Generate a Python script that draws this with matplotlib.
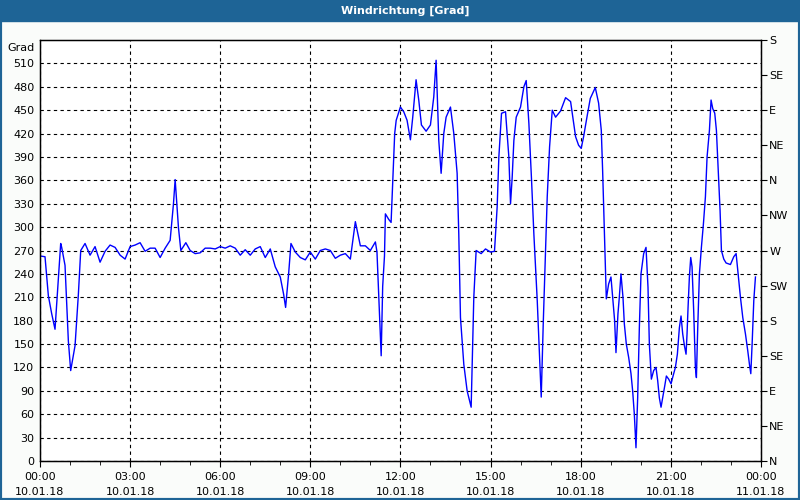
import matplotlib
matplotlib.use("Agg")
import matplotlib.pyplot as plt
from matplotlib.patches import Rectangle
from matplotlib.ticker import MultipleLocator

# Stunden ab 10.01.18 00:00 und Windrichtung in Grad
stunden = [
    0.000, 0.167, 0.278, 0.389, 0.500, 0.556, 0.689, 0.722, 0.833, 0.944,
    1.022, 1.167, 1.278, 1.356, 1.500, 1.667, 1.833, 2.000, 2.167, 2.333,
    2.500, 2.667, 2.833, 3.000, 3.167, 3.333, 3.500, 3.667, 3.833, 4.000,
    4.167, 4.333, 4.444, 4.500, 4.611, 4.689, 4.856, 5.000, 5.167, 5.333,
    5.500, 5.667, 5.833, 6.000, 6.167, 6.333, 6.500, 6.667, 6.833, 7.000,
    7.167, 7.333, 7.500, 7.667, 7.833, 8.000, 8.111, 8.178, 8.278, 8.356,
    8.500, 8.667, 8.833, 9.000, 9.167, 9.333, 9.500, 9.667, 9.833, 10.000,
    10.167, 10.333, 10.500, 10.667, 10.833, 11.000, 11.167, 11.220, 11.300, 11.360,
    11.410, 11.470, 11.500, 11.610, 11.690, 11.760, 11.810, 11.860, 12.000, 12.111,
    12.222, 12.333, 12.411, 12.522, 12.611, 12.700, 12.856, 13.000, 13.111, 13.189,
    13.278, 13.356, 13.444, 13.522, 13.667, 13.778, 13.889, 13.944, 14.000, 14.111,
    14.222, 14.356, 14.444, 14.522, 14.689, 14.833, 15.000, 15.133, 15.222, 15.278,
    15.367, 15.500, 15.611, 15.667, 15.722, 15.778, 15.856, 16.000, 16.111, 16.189,
    16.278, 16.367, 16.444, 16.556, 16.633, 16.689, 16.756, 16.833, 16.889, 16.967,
    17.056, 17.167, 17.333, 17.500, 17.667, 17.833, 17.933, 18.020, 18.100, 18.211,
    18.322, 18.489, 18.600, 18.689, 18.733, 18.767, 18.800, 18.833, 18.856, 18.933,
    19.011, 19.078, 19.133, 19.178, 19.244, 19.289, 19.344, 19.411, 19.456, 19.522,
    19.600, 19.678, 19.733, 19.789, 19.844, 19.900, 19.956, 20.011, 20.100, 20.178,
    20.244, 20.289, 20.356, 20.433, 20.511, 20.567, 20.622, 20.678, 20.733, 20.800,
    20.856, 20.933, 21.011, 21.078, 21.156, 21.222, 21.289, 21.344, 21.400, 21.456,
    21.511, 21.544, 21.578, 21.622, 21.667, 21.711, 21.767, 21.822, 21.856, 21.900,
    21.956, 22.022, 22.089, 22.156, 22.211, 22.289, 22.344, 22.400, 22.467, 22.522,
    22.578, 22.644, 22.689, 22.767, 22.844, 22.989, 23.100, 23.178, 23.244, 23.322,
    23.400, 23.489, 23.567, 23.622, 23.667, 23.711, 23.767, 23.822,
]
grad = [
    263, 262, 212, 189, 169, 201, 279, 274, 251, 154,
    116, 148, 214, 270, 279, 264, 275, 255, 269, 277,
    274, 264, 259, 275, 277, 280, 269, 273, 273, 261,
    273, 283, 330, 361, 299, 270, 280, 270, 266, 267,
    273, 273, 272, 275, 273, 276, 273, 264, 271, 264,
    272, 275, 261, 272, 249, 236, 214, 197, 240, 279,
    268, 261, 258, 268, 259, 270, 272, 270, 260, 264,
    266, 259, 307, 276, 276, 270, 281, 268, 190, 135,
    224, 263, 317, 310, 306, 371, 420, 437, 454, 448,
    437, 412, 441, 489, 463, 431, 423, 431, 467, 514,
    411, 369, 420, 441, 454, 420, 369, 291, 184, 124,
    90, 69, 210, 270, 266, 272, 268, 269, 326, 390,
    446, 448, 390, 330, 364, 411, 441, 454, 480, 488,
    433, 360, 291, 206, 133, 82, 176, 270, 339, 403,
    450, 441, 449, 466, 461, 416, 405, 401, 416, 441,
    465, 479, 459, 424, 373, 326, 279, 231, 208, 227,
    236, 206, 180, 139, 189, 210, 240, 210, 176, 150,
    133, 112, 90, 60, 17, 81, 171, 240, 266, 274,
    223, 150, 105, 116, 120, 103, 81, 69, 81, 96,
    109, 105, 99, 109, 120, 137, 171, 186, 163, 148,
    137, 163, 197, 236, 261, 249, 191, 120, 107, 171,
    240, 274, 304, 339, 390, 424, 463, 452, 446, 424,
    377, 321, 270, 259, 254, 252, 262, 266, 240, 210,
    184, 163, 141, 124, 112, 150, 206, 236,
]

x_ticks = [0, 3, 6, 9, 12, 15, 18, 21, 24]
x_labels = ["00:00\n10.01.18", "03:00\n10.01.18", "06:00\n10.01.18",
            "09:00\n10.01.18", "12:00\n10.01.18", "15:00\n10.01.18",
            "18:00\n10.01.18", "21:00\n10.01.18", "00:00\n11.01.18"]
himmelsrichtung = ["N", "NE", "E", "SE", "S", "SW", "W", "NW",
                   "N", "NE", "E", "SE", "S"]
titel = "Windrichtung [Grad]"

blau = "#1e6496"

fig = plt.figure(figsize=(8, 5), dpi=100, facecolor="#fafcfa")

# Titelleiste und Rahmen
fig.patches.append(Rectangle((0, 0.958), 1, 0.042, transform=fig.transFigure,
                             color=blau, zorder=0))
fig.patches.append(Rectangle((0, 0), 1, 1, transform=fig.transFigure,
                             fill=False, edgecolor=blau, linewidth=3, zorder=0))
fig.text(0.507, 0.979, titel, color="white", fontsize=8, fontweight="bold",
         ha="center", va="center")

ax = fig.add_axes([0.05, 0.078, 0.901, 0.842])
ax.set_facecolor("white")
ax.plot(stunden, grad, color="#0000ff", linewidth=1)

ax.set_xlim(0, 24)
ax.set_ylim(0, 540)
ax.set_xticks(x_ticks)
ax.set_xticklabels(x_labels, fontsize=8, linespacing=1.6)
ax.xaxis.set_minor_locator(MultipleLocator(1))
ax.set_yticks(range(0, 511, 30))
ax.set_yticklabels([str(v) for v in range(0, 511, 30)], fontsize=8)
ax.tick_params(axis="x", which="major", length=4, pad=4)
ax.tick_params(axis="x", which="minor", length=3)
ax.tick_params(axis="y", length=0, pad=4)
ax.grid(True, color="black", linestyle=(0, (3, 3)), linewidth=0.8)
for s in ax.spines.values():
    s.set_linewidth(1)

ax.annotate("Grad", xy=(0, 1), xycoords="axes fraction", xytext=(-4, -6),
            textcoords="offset points", ha="right", va="center", fontsize=8)

ax2 = ax.twinx()
ax2.set_ylim(0, 540)
ax2.set_yticks(range(0, 541, 45))
ax2.set_yticklabels(himmelsrichtung, fontsize=8)
ax2.tick_params(axis="y", length=4, pad=2)

fig.savefig("out.png", dpi=100, facecolor=fig.get_facecolor())
